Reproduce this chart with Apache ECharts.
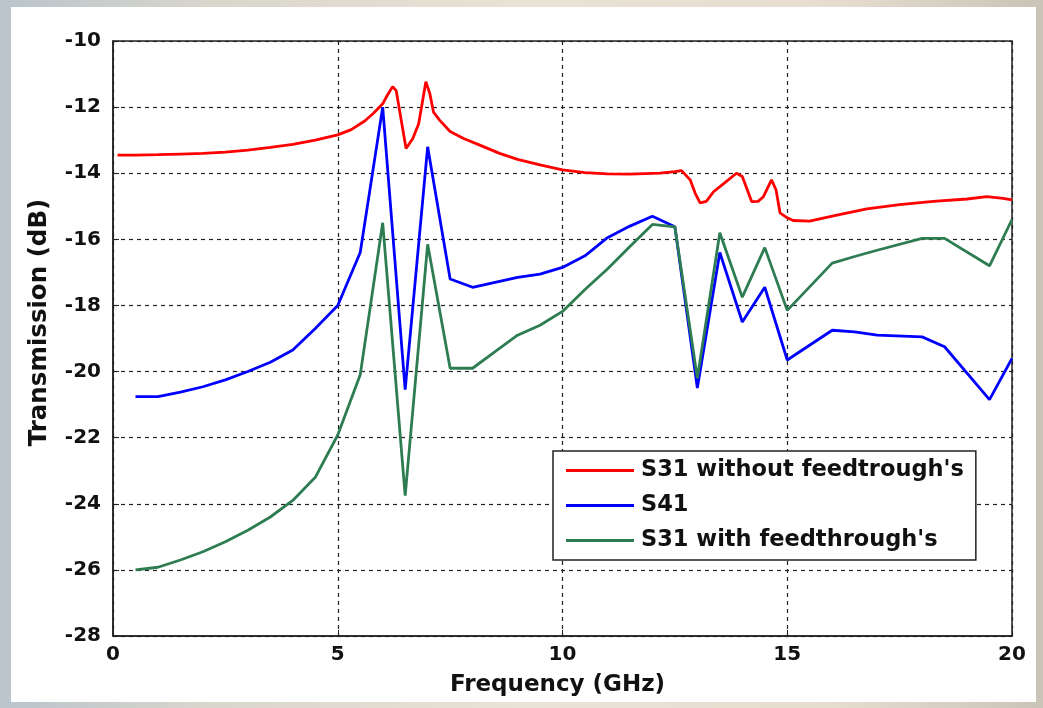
<!DOCTYPE html>
<html>
<head>
<meta charset="utf-8">
<script src="https://cdn.jsdelivr.net/npm/echarts@6/dist/echarts.min.js"></script>
<style>
  html, body { margin: 0; padding: 0; }
  body {
    width: 1043px; height: 708px; overflow: hidden; position: relative;
    background: linear-gradient(90deg, #b9c4cc 0%, #d9d6cc 20%, #e9e2d6 50%, #e6ddd0 80%, #c9c3b8 100%);
  }
  #panel { position: absolute; left: 11px; top: 7px; width: 1025px; height: 695px; background: #fff; }
  #chart { position: absolute; left: 0; top: 0; width: 1043px; height: 708px; }
</style>
</head>
<body>
<div id="panel"></div>
<div id="chart"></div>
<script>
// S31 without feedthroughs (red), finely sampled
const redFreq = [0.1, 0.5, 1, 1.5, 2, 2.5, 3, 3.5, 4, 4.5, 5, 5.3, 5.6, 5.8, 6.0, 6.1, 6.22, 6.3, 6.4, 6.52, 6.67, 6.8, 6.96, 7.05, 7.13, 7.27, 7.5, 7.8, 8.16, 8.6, 9.0, 9.5, 10.0, 10.5, 11, 11.5, 12.17, 12.5, 12.65, 12.84, 12.95, 13.06, 13.2, 13.36, 13.6, 13.87, 14.0, 14.1, 14.21, 14.35, 14.47, 14.65, 14.75, 14.84, 15.0, 15.13, 15.5, 16.0, 16.77, 17.5, 18.25, 19.0, 19.44, 19.8, 20];
const redVals = [-13.45, -13.45, -13.44, -13.42, -13.40, -13.36, -13.30, -13.22, -13.13, -13.0, -12.84, -12.68, -12.42, -12.18, -11.9, -11.65, -11.38, -11.5, -12.3, -13.25, -12.95, -12.5, -11.23, -11.6, -12.15, -12.4, -12.74, -12.95, -13.15, -13.4, -13.58, -13.75, -13.9, -13.98, -14.02, -14.03, -14.0, -13.95, -13.92, -14.2, -14.6, -14.9, -14.85, -14.56, -14.3, -14.0, -14.1, -14.46, -14.86, -14.85, -14.71, -14.2, -14.5, -15.2, -15.35, -15.43, -15.45, -15.3, -15.08, -14.95, -14.85, -14.78, -14.71, -14.76, -14.81];

// S41 and S31 with feedthroughs share the same frequency points
const freq = [0.5, 1.0, 1.5, 2.0, 2.5, 3.0, 3.5, 4.0, 4.5, 5.0, 5.5, 6.0, 6.5, 7.0, 7.5, 8.0, 8.5, 9.0, 9.5, 10.0, 10.5, 11.0, 11.5, 12.0, 12.5, 13.0, 13.5, 14.0, 14.5, 15.0, 16.0, 16.5, 17.0, 18.0, 18.5, 19.5, 20.0];
const blueVals = [-20.76, -20.76, -20.62, -20.46, -20.25, -20.0, -19.72, -19.35, -18.7, -18.0, -16.4, -12.0, -20.55, -13.2, -17.2, -17.45, -17.3, -17.15, -17.05, -16.85, -16.5, -15.95, -15.6, -15.3, -15.62, -20.5, -16.4, -18.5, -17.45, -19.65, -18.75, -18.8, -18.9, -18.95, -19.25, -20.85, -19.6];
const greenVals = [-26.0, -25.92, -25.7, -25.45, -25.15, -24.8, -24.4, -23.9, -23.2, -21.92, -20.1, -15.5, -23.75, -16.15, -19.9, -19.9, -19.4, -18.9, -18.6, -18.18, -17.52, -16.9, -16.22, -15.55, -15.62, -20.2, -15.8, -17.75, -16.25, -18.15, -16.72, -16.52, -16.33, -15.97, -15.97, -16.8, -15.4];

const seriesNames = ["S31 without feedtrough's", 'S41', "S31 with feedthrough's"];

const pair = (xs, ys) => xs.map((x, i) => [x, ys[i]]);

const chart = echarts.init(document.getElementById('chart'));

const gridLine = {
  show: true,
  lineStyle: { color: '#222', type: [4, 4], width: 1.2 },
};

const options = {
  backgroundColor: 'transparent',
  animation: false,
  color: ['#ff0000', '#0000ff', '#2e7d52'],
  grid: {
    left: 113,
    right: 31,
    top: 41,
    bottom: 72,
    show: true,
    borderColor: '#222',
    borderWidth: 1.5,
  },
  legend: {
    orient: 'vertical',
    left: 553,
    top: 451,
    icon: 'rect',
    itemWidth: 68,
    itemHeight: 3,
    itemGap: 12,
    padding: [8, 12, 8, 13],
    backgroundColor: '#fff',
    borderColor: '#222',
    borderWidth: 1.5,
    borderRadius: 0,
    textStyle: {
      fontFamily: 'DejaVu Sans',
      fontWeight: 'bold',
      fontSize: 22.5,
      lineHeight: 22,
      color: '#111',
      padding: [0, 0, 0, 2],
    },
    data: seriesNames,
  },
  xAxis: {
    type: 'value',
    min: 0,
    max: 20,
    interval: 5,
    name: 'Frequency (GHz)',
    nameLocation: 'middle',
    nameGap: 38,
    nameTextStyle: { fontFamily: 'DejaVu Sans', fontWeight: 'bold', fontSize: 23, color: '#111', padding: [0, 10, 0, 0] },
    axisLine: { show: true, onZero: false, lineStyle: { color: '#222', width: 1.5 } },
    axisTick: { show: true, inside: true, length: 6, lineStyle: { color: '#222' } },
    axisLabel: { margin: 9, fontFamily: 'DejaVu Sans', fontWeight: 'bold', fontSize: 20, color: '#111' },
    splitLine: gridLine,
  },
  yAxis: {
    type: 'value',
    min: -28,
    max: -10,
    interval: 2,
    name: 'Transmission (dB)',
    nameLocation: 'middle',
    nameGap: 61,
    nameTextStyle: { fontFamily: 'DejaVu Sans', fontWeight: 'bold', fontSize: 24.5, color: '#111', padding: [0, 0, 0, 32] },
    axisLine: { show: true, onZero: false, lineStyle: { color: '#222', width: 1.5 } },
    axisTick: { show: true, inside: true, length: 6, lineStyle: { color: '#222' } },
    axisLabel: { margin: 12, fontFamily: 'DejaVu Sans', fontWeight: 'bold', fontSize: 20, color: '#111' },
    splitLine: gridLine,
  },
  series: [
    {
      name: seriesNames[0],
      type: 'line',
      data: pair(redFreq, redVals),
      showSymbol: false,
      lineStyle: { width: 2.8 },
    },
    {
      name: seriesNames[1],
      type: 'line',
      data: pair(freq, blueVals),
      showSymbol: false,
      lineStyle: { width: 2.8 },
    },
    {
      name: seriesNames[2],
      type: 'line',
      data: pair(freq, greenVals),
      showSymbol: false,
      lineStyle: { width: 2.8 },
    },
  ],
};

chart.setOption(options);
</script>
</body>
</html>
